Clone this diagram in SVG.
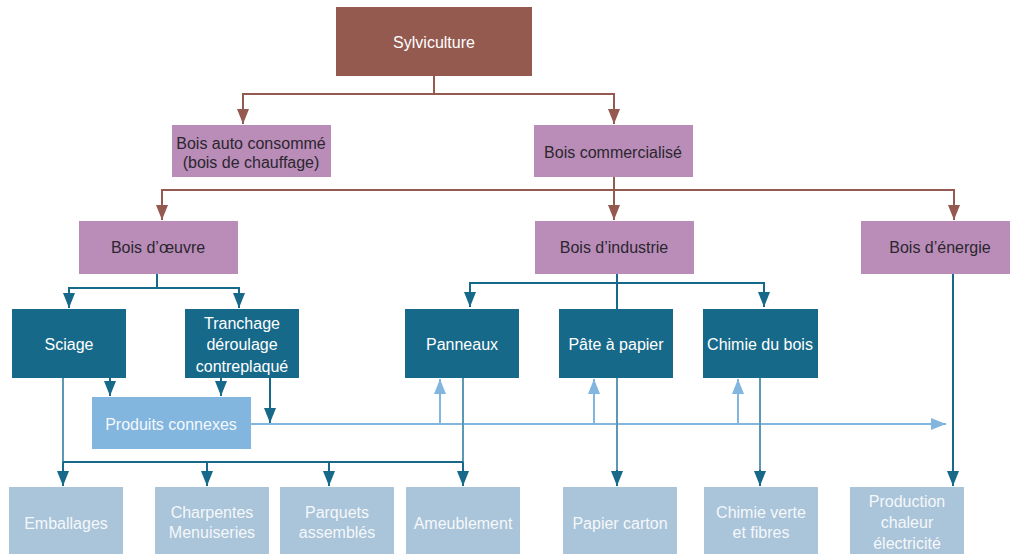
<svg xmlns="http://www.w3.org/2000/svg" width="1010" height="554" viewBox="0 0 1010 554">
<style>
text{font-family:"Liberation Sans",Arial,sans-serif;font-size:16px;text-anchor:middle}
.br{fill:#945a50}.pu{fill:#b98db7}.tl{fill:#17698a}.lb{fill:#82b6df}.pb{fill:#aac4d9}
.dk{fill:#2b2630}.wt{fill:#ffffff}.pw{fill:#f5f8fb}
.cb{fill:none;stroke:#945a50;stroke-width:2}
.ct{fill:none;stroke:#17698a;stroke-width:2}
.cm{fill:none;stroke:#5d97b6;stroke-width:2}
.cl{fill:none;stroke:#82b6df;stroke-width:2}
</style>
<defs>
<marker id="ab" viewBox="0 0 15 12" refX="15" refY="6" markerWidth="15" markerHeight="12" markerUnits="userSpaceOnUse" orient="auto"><path d="M0,0L15,6L0,12z" fill="#945a50"/></marker>
<marker id="at" viewBox="0 0 15 12" refX="15" refY="6" markerWidth="15" markerHeight="12" markerUnits="userSpaceOnUse" orient="auto"><path d="M0,0L15,6L0,12z" fill="#17698a"/></marker>
<marker id="al" viewBox="0 0 15 12" refX="15" refY="6" markerWidth="15" markerHeight="12" markerUnits="userSpaceOnUse" orient="auto"><path d="M0,0L15,6L0,12z" fill="#82b6df"/></marker>
</defs>
<g id="connectors">
<path class="cb" d="M434,76V94H243V124" marker-end="url(#ab)"/>
<path class="cb" d="M434,94H614V124" marker-end="url(#ab)"/>
<path class="cb" d="M614,177V220" marker-end="url(#ab)"/>
<path class="cb" d="M614,190H162V220" marker-end="url(#ab)"/>
<path class="cb" d="M614,190H954V220" marker-end="url(#ab)"/>
<path class="ct" d="M157,274V288H69V308" marker-end="url(#at)"/>
<path class="ct" d="M157,288H239V308" marker-end="url(#at)"/>
<path class="ct" d="M617,274V309"/>
<path class="ct" d="M617,283H470V307" marker-end="url(#at)"/>
<path class="ct" d="M617,283H764V307" marker-end="url(#at)"/>
<path class="ct" d="M110,378V396" marker-end="url(#at)"/>
<path class="ct" d="M221,378V396" marker-end="url(#at)"/>
<path class="ct" d="M270,378V423" marker-end="url(#at)"/>
<path class="cl" d="M251,424H946" marker-end="url(#al)"/>
<path class="cl" d="M440,424V379" marker-end="url(#al)"/>
<path class="cl" d="M594,424V379" marker-end="url(#al)"/>
<path class="cl" d="M738,424V379" marker-end="url(#al)"/>
<path class="cm" d="M63,378V462"/>
<path class="cm" d="M463,378V462"/>
<path class="ct" d="M63,462H463"/>
<path class="ct" d="M63,462V486" marker-end="url(#at)"/>
<path class="ct" d="M207,462V486" marker-end="url(#at)"/>
<path class="ct" d="M329,462V486" marker-end="url(#at)"/>
<path class="ct" d="M463,462V486" marker-end="url(#at)"/>
<path class="cm" d="M617,378V470"/>
<path class="ct" d="M617,470V486" marker-end="url(#at)"/>
<path class="cm" d="M760,378V470"/>
<path class="ct" d="M760,470V486" marker-end="url(#at)"/>
<path class="ct" d="M953,274V486" marker-end="url(#at)"/>
</g>
<g id="sylviculture"><rect class="br" x="336" y="7" width="196" height="69"/><text class="wt" x="434" y="42" dy="0.35em">Sylviculture</text></g>
<g id="bois-auto"><rect class="pu" x="172" y="125" width="159" height="52"/><text class="dk" x="251" y="143" dy="0.35em">Bois auto consommé</text><text class="dk" x="251" y="162" dy="0.35em">(bois de chauffage)</text></g>
<g id="bois-commercialise"><rect class="pu" x="534" y="125" width="159" height="52"/><text class="dk" x="613" y="152" dy="0.35em">Bois commercialisé</text></g>
<g id="bois-oeuvre"><rect class="pu" x="79" y="221" width="159" height="53"/><text class="dk" x="158" y="247" dy="0.35em">Bois d’œuvre</text></g>
<g id="bois-industrie"><rect class="pu" x="535" y="221" width="159" height="53"/><text class="dk" x="614" y="247" dy="0.35em">Bois d’industrie</text></g>
<g id="bois-energie"><rect class="pu" x="861" y="221" width="149" height="53"/><text class="dk" x="940" y="247" dy="0.35em">Bois d’énergie</text></g>
<g id="sciage"><rect class="tl" x="12" y="309" width="114" height="69"/><text class="wt" x="69" y="344" dy="0.35em">Sciage</text></g>
<g id="tranchage"><rect class="tl" x="185" y="309" width="114" height="69"/><text class="wt" x="242" y="323" dy="0.35em">Tranchage</text><text class="wt" x="242" y="344" dy="0.35em">déroulage</text><text class="wt" x="242" y="366" dy="0.35em">contreplaqué</text></g>
<g id="panneaux"><rect class="tl" x="405" y="309" width="114" height="69"/><text class="wt" x="462" y="344" dy="0.35em">Panneaux</text></g>
<g id="pate-papier"><rect class="tl" x="559" y="309" width="114" height="69"/><text class="wt" x="616" y="344" dy="0.35em">Pâte à papier</text></g>
<g id="chimie-bois"><rect class="tl" x="703" y="309" width="115" height="69"/><text class="wt" x="760" y="344" dy="0.35em">Chimie du bois</text></g>
<g id="produits-connexes"><rect class="lb" x="92" y="397" width="159" height="52"/><text class="pw" x="171" y="424" dy="0.35em">Produits connexes</text></g>
<g id="emballages"><rect class="pb" x="9" y="487" width="114" height="67"/><text class="pw" x="66" y="523" dy="0.35em">Emballages</text></g>
<g id="charpentes"><rect class="pb" x="155" y="487" width="114" height="67"/><text class="pw" x="212" y="512" dy="0.35em">Charpentes</text><text class="pw" x="212" y="532" dy="0.35em">Menuiseries</text></g>
<g id="parquets"><rect class="pb" x="280" y="487" width="114" height="67"/><text class="pw" x="337" y="512" dy="0.35em">Parquets</text><text class="pw" x="337" y="532" dy="0.35em">assemblés</text></g>
<g id="ameublement"><rect class="pb" x="406" y="487" width="114" height="67"/><text class="pw" x="463" y="523" dy="0.35em">Ameublement</text></g>
<g id="papier-carton"><rect class="pb" x="563" y="487" width="114" height="67"/><text class="pw" x="620" y="523" dy="0.35em">Papier carton</text></g>
<g id="chimie-verte"><rect class="pb" x="704" y="487" width="114" height="67"/><text class="pw" x="761" y="512" dy="0.35em">Chimie verte</text><text class="pw" x="761" y="532" dy="0.35em">et fibres</text></g>
<g id="production"><rect class="pb" x="850" y="487" width="114" height="67"/><text class="pw" x="907" y="501" dy="0.35em">Production</text><text class="pw" x="907" y="522" dy="0.35em">chaleur</text><text class="pw" x="907" y="543" dy="0.35em">électricité</text></g>
</svg>
